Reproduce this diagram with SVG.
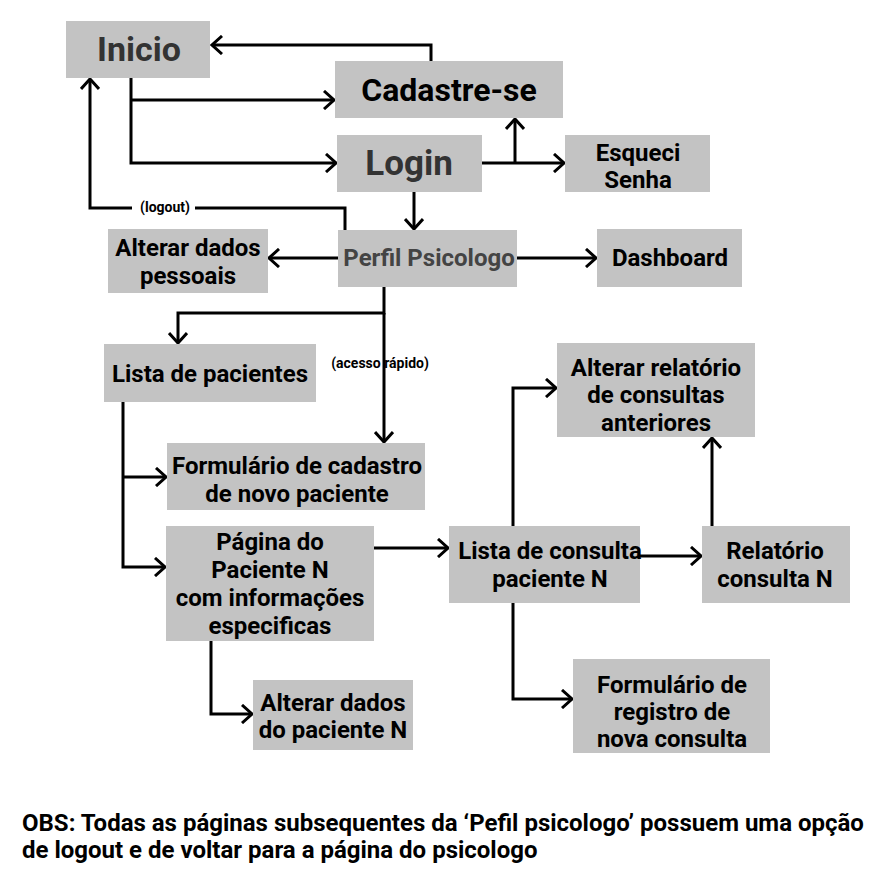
<svg xmlns="http://www.w3.org/2000/svg" width="892" height="886" viewBox="0 0 892 886">
<defs>
<style>
.box{fill:#c3c3c3}
.t{font-family:Roboto,"Liberation Sans",sans-serif;font-weight:bold;fill:#000;text-anchor:middle;font-size:24px}
.c{fill:none;stroke:#000;stroke-width:3}
.lbl{font-family:Roboto,"Liberation Sans",sans-serif;font-weight:bold;font-size:14px;fill:#000;text-anchor:middle}
.obs{font-family:Roboto,"Liberation Sans",sans-serif;font-weight:bold;font-size:24px;fill:#000}
</style>
<marker id="ah" viewBox="0 0 14 20" markerUnits="userSpaceOnUse" markerWidth="14" markerHeight="20" refX="12" refY="10" orient="auto">
<path d="M2,1 L12,10 L2,19" fill="none" stroke="#000" stroke-width="3"/>
</marker>
</defs>
<rect width="892" height="886" fill="#fff"/>
<g id="connectors">
<path class="c" d="M431,61 V45 H212" marker-end="url(#ah)"/>
<path class="c" d="M131,78 V163 H336" marker-end="url(#ah)"/>
<path class="c" d="M131,100 H334" marker-end="url(#ah)"/>
<path class="c" d="M482,163 H564" marker-end="url(#ah)"/>
<path class="c" d="M515,163 V119" marker-end="url(#ah)"/>
<path class="c" d="M414,192 V229" marker-end="url(#ah)"/>
<path class="c" d="M345,230 V208 H90 V79" marker-end="url(#ah)"/>
<path class="c" d="M338,258 H269" marker-end="url(#ah)"/>
<path class="c" d="M517,258 H596" marker-end="url(#ah)"/>
<path class="c" d="M384,287 V313 H178 V343" marker-end="url(#ah)"/>
<path class="c" d="M384,313 V442" marker-end="url(#ah)"/>
<path class="c" d="M123,402 V567 H165" marker-end="url(#ah)"/>
<path class="c" d="M123,477 H166" marker-end="url(#ah)"/>
<path class="c" d="M374,548 H448" marker-end="url(#ah)"/>
<path class="c" d="M640,556 H701" marker-end="url(#ah)"/>
<path class="c" d="M513,526 V388 H556" marker-end="url(#ah)"/>
<path class="c" d="M712,526 V438" marker-end="url(#ah)"/>
<path class="c" d="M513,603 V699 H572" marker-end="url(#ah)"/>
<path class="c" d="M211,641 V714 H252" marker-end="url(#ah)"/>
<rect x="132" y="199" width="63" height="18" fill="#fff"/>
<text class="lbl" x="165" y="212">(logout)</text>
<text class="lbl" x="380" y="368">(acesso rápido)</text>
</g>
<g id="inicio"><rect class="box" x="66" y="21" width="144" height="57"/><text class="t" x="139" y="61" style="font-size:34px;fill:#333">Inicio</text></g>
<g id="cadastre"><rect class="box" x="335" y="61" width="228" height="57"/><text class="t" x="449" y="101" style="font-size:32px">Cadastre-se</text></g>
<g id="login"><rect class="box" x="337" y="135" width="145" height="57"/><text class="t" x="409" y="175" style="font-size:35px;fill:#333">Login</text></g>
<g id="esqueci"><rect class="box" x="565" y="135" width="145" height="57"/><text class="t" x="638" y="161">Esqueci</text><text class="t" x="638" y="188">Senha</text></g>
<g id="perfil"><rect class="box" x="338" y="230" width="179" height="57"/><text class="t" x="429" y="266" style="fill:#444">Perfil Psicologo</text></g>
<g id="alterar-pessoais"><rect class="box" x="108" y="229" width="160" height="64"/><text class="t" x="188" y="256">Alterar dados</text><text class="t" x="188" y="284">pessoais</text></g>
<g id="dashboard"><rect class="box" x="597" y="229" width="145" height="58"/><text class="t" x="670" y="266">Dashboard</text></g>
<g id="lista-pacientes"><rect class="box" x="104" y="344" width="212" height="58"/><text class="t" x="210" y="382">Lista de pacientes</text></g>
<g id="form-cadastro"><rect class="box" x="167" y="443" width="258" height="67"/><text class="t" x="297" y="474">Formulário de cadastro</text><text class="t" x="297" y="502">de novo paciente</text></g>
<g id="pagina-paciente"><rect class="box" x="166" y="526" width="208" height="115"/><text class="t" x="270" y="550">Página do</text><text class="t" x="270" y="578">Paciente N</text><text class="t" x="270" y="606">com informações</text><text class="t" x="270" y="634">especificas</text></g>
<g id="lista-consulta"><rect class="box" x="449" y="526" width="191" height="77"/><text class="t" x="550" y="559">Lista de consulta</text><text class="t" x="550" y="587">paciente N</text></g>
<g id="relatorio"><rect class="box" x="702" y="526" width="148" height="77"/><text class="t" x="775" y="559">Relatório</text><text class="t" x="775" y="587">consulta N</text></g>
<g id="alterar-relatorio"><rect class="box" x="557" y="343" width="198" height="94"/><text class="t" x="656" y="376">Alterar relatório</text><text class="t" x="656" y="403">de consultas</text><text class="t" x="656" y="431">anteriores</text></g>
<g id="alterar-paciente"><rect class="box" x="253" y="680" width="160" height="70"/><text class="t" x="333" y="711">Alterar dados</text><text class="t" x="333" y="738">do paciente N</text></g>
<g id="form-consulta"><rect class="box" x="573" y="659" width="197" height="94"/><text class="t" x="672" y="693">Formulário de</text><text class="t" x="672" y="720">registro de</text><text class="t" x="672" y="747">nova consulta</text></g>
<g id="obs">
<text class="obs" x="22" y="831">OBS: Todas as páginas subsequentes da ‘Pefil psicologo’ possuem uma opção</text>
<text class="obs" x="22" y="858">de logout e de voltar para a página do psicologo</text>
</g>
</svg>
